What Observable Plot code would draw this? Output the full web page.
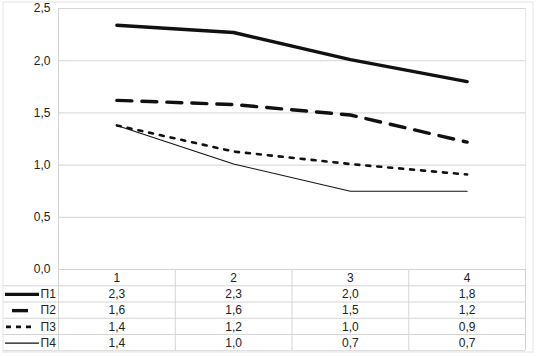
<!DOCTYPE html>
<html>
<head>
<meta charset="utf-8">
<script src="https://cdn.jsdelivr.net/npm/d3@7"></script>
<script src="https://cdn.jsdelivr.net/npm/@observablehq/plot@0.6"></script>
<style>
  html, body { margin: 0; padding: 0; background: #fff; }
  svg { display: block; }
</style>
</head>
<body>
<div id="chart"></div>
<script>
// ---- data ----
const categories = [1, 2, 3, 4];
const seriesNames = ["П1", "П2", "П3", "П4"];
const p1 = [2.34, 2.27, 2.01, 1.80];
const p2 = [1.62, 1.58, 1.48, 1.22];
const p3 = [1.38, 1.13, 1.01, 0.91];
const p4 = [1.38, 1.01, 0.75, 0.75];
const tableP1 = ["2,3", "2,3", "2,0", "1,8"];
const tableP2 = ["1,6", "1,6", "1,5", "1,2"];
const tableP3 = ["1,4", "1,2", "1,0", "0,9"];
const tableP4 = ["1,4", "1,0", "0,7", "0,7"];
const yTicks = [0, 0.5, 1, 1.5, 2, 2.5];

// ---- layout / styles ----
const W = 538, H = 356;
const xOpts = {type: "linear", domain: [0.5, 4.5], range: [58, 525]};
const yOpts = {type: "linear", domain: [0, 2.5], range: [269, 8]};
const xs = Plot.scale({x: xOpts});
const ys = Plot.scale({y: yOpts});
const rowH = 16.25;
const rowY = k => ys.invert(269 + rowH * k); // boundary k rows below zero line
const rowMid = k => ys.invert(269 + rowH * k + rowH / 2 + 0.5);

const styles = [
  {strokeWidth: 3.4, dash: null, legendDash: null, lx1: 5, lx2: 39},
  {strokeWidth: 3.4, dash: "15,10", legendDash: null, lx1: 12, lx2: 28},
  {strokeWidth: 2.6, dash: "4,7", legendDash: "5,5", lx1: 6, lx2: 31},
  {strokeWidth: 1.1, dash: null, legendDash: null, lx1: 5, lx2: 39}
];
const valueArrays = [p1, p2, p3, p4];
const tableArrays = [tableP1, tableP2, tableP3, tableP4];

const lineData = seriesNames.map((s, i) => categories.map((c, j) => ({series: s, x: c, y: valueArrays[i][j]})));
const tableData = seriesNames.flatMap((s, i) => categories.map((c, j) => ({row: i, x: c, label: tableArrays[i][j]})));

const gridColor = "#d4d4d4";
const font = "Liberation Sans, Arial, sans-serif";
const ink = "#111";

const marks = [
  // horizontal gridlines
  Plot.ruleY(yTicks, {y: d => d, x1: 0.5, x2: 4.5, stroke: gridColor, strokeWidth: 1}),
  // y-axis line
  Plot.ruleX([0.5], {x: d => d, y1: 2.5, y2: rowY(5), stroke: gridColor}),
  // table column lines
  Plot.ruleX([1.5, 2.5, 3.5, 4.5], {x: d => d, y1: 0, y2: rowY(5), stroke: gridColor}),
  Plot.ruleX([4.5], {x: d => d, y1: 2.5, y2: 0, stroke: "#e6e6e6"}),
  // table row lines
  Plot.ruleY([1, 2, 3, 4, 5], {y: k => rowY(k), x1: xs.invert(3), x2: 4.5, stroke: gridColor}),
  // y tick labels
  Plot.text(yTicks, {x: 0.5, y: d => d, text: d => d.toFixed(1).replace(".", ","), textAnchor: "end", dx: -8, fontSize: 12, fill: "#222"}),
  // header row
  Plot.text(categories, {x: d => d, y: rowMid(0), text: d => String(d), fontSize: 12, fill: "#222"}),
  // table values
  Plot.text(tableData, {x: "x", y: d => rowMid(d.row + 1), text: "label", fontSize: 12, fill: "#222"}),
  // legend labels
  Plot.text(seriesNames, {x: xs.invert(40), y: (d, i) => rowMid(i + 1), text: d => d, textAnchor: "start", fontSize: 12, fill: "#222"})
];

styles.forEach((st, i) => {
  marks.push(Plot.line(lineData[i], {x: "x", y: "y", stroke: ink, strokeWidth: st.strokeWidth, strokeDasharray: st.dash, strokeLinejoin: "round"}));
  marks.push(Plot.ruleY([i + 1], {y: k => rowMid(k), x1: xs.invert(st.lx1), x2: xs.invert(st.lx2), stroke: ink, strokeWidth: st.strokeWidth, strokeDasharray: st.legendDash}));
});

// outer faint frame
marks.push(() => {
  const r = document.createElementNS("http://www.w3.org/2000/svg", "rect");
  r.setAttribute("x", 3); r.setAttribute("y", 2);
  r.setAttribute("width", 530); r.setAttribute("height", 350);
  r.setAttribute("fill", "none"); r.setAttribute("stroke", "#e4e4e4");
  return r;
});

const chart = Plot.plot({
  width: W,
  height: H,
  marginTop: 0, marginBottom: 0, marginLeft: 0, marginRight: 0,
  x: {...xOpts, axis: null},
  y: {...yOpts, axis: null},
  style: {fontFamily: font, background: "#fff", overflow: "visible"},
  marks
});
document.getElementById("chart").appendChild(chart);
</script>
</body>
</html>
